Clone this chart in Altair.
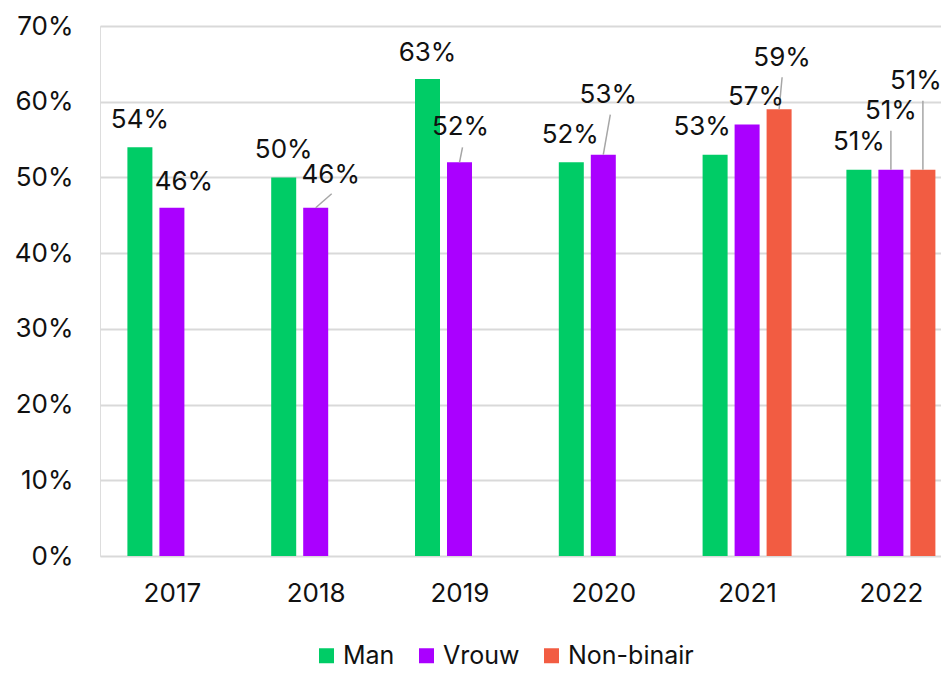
import altair as alt
import pandas as pd

# ---- data ----
years = ["2017", "2018", "2019", "2020", "2021", "2022"]
series = ["Man", "Vrouw", "Non-binair"]
man = [54, 50, 63, 52, 53, 51]
vrouw = [46, 46, 52, 53, 57, 51]
non_binair = [None, None, None, None, 59, 51]
colors = ["#00CC66", "#AA00FF", "#F25C42"]

# ---- layout / style ----
FONT = "Inter"
TEXT_COLOR = "#111111"
PLOT_W, PLOT_H = 841, 530
STEP = 143.8          # px per year group
SUB = 32              # px between bars in a group
BAR_W = 25
Y_MAX = 70
PX_PER_PCT = PLOT_H / Y_MAX

# label nudges (px, right / up) relative to bar top centre
label_nudge = {
    ("2017", "Man"): (0, 27), ("2017", "Vrouw"): (12, 26),
    ("2018", "Man"): (0, 27), ("2018", "Vrouw"): (15, 33),
    ("2019", "Man"): (0, 26), ("2019", "Vrouw"): (1, 35),
    ("2020", "Man"): (-1, 27), ("2020", "Vrouw"): (5, 60),
    ("2021", "Man"): (-13, 28), ("2021", "Vrouw"): (9, 27), ("2021", "Non-binair"): (3, 51),
    ("2022", "Man"): (0, 28), ("2022", "Vrouw"): (0, 59), ("2022", "Non-binair"): (-7, 89),
}
# leader line ends (px, right / up) relative to bar top centre
leader_end = {
    ("2018", "Vrouw"): (16, 14),
    ("2019", "Vrouw"): (3, 15),
    ("2020", "Vrouw"): (7, 40),
    ("2021", "Non-binair"): (3, 32),
    ("2022", "Vrouw"): (0, 39),
    ("2022", "Non-binair"): (0, 69),
}

values = {"Man": man, "Vrouw": vrouw, "Non-binair": non_binair}
rows = []
for i, yr in enumerate(years):
    for j, s in enumerate(series):
        v = values[s][i]
        if v is None:
            continue
        cx = i + 0.5 + (j - 1) * SUB / STEP
        ndx, ndy = label_nudge.get((yr, s), (0, 27))
        row = {
            "year": yr, "series": s, "value": v, "label": f"{v}%",
            "cx": cx,
            "x0": cx - BAR_W / 2 / STEP, "x1": cx + BAR_W / 2 / STEP,
            "lx": cx + ndx / STEP, "ly": v + ndy / PX_PER_PCT,
            "has_leader": (yr, s) in leader_end,
        }
        if (yr, s) in leader_end:
            ldx, ldy = leader_end[(yr, s)]
            row["ex"] = cx + ldx / STEP
            row["ey"] = v + ldy / PX_PER_PCT
        else:
            row["ex"] = cx
            row["ey"] = v
        rows.append(row)
df = pd.DataFrame(rows)

xscale = alt.Scale(domain=[0, PLOT_W / STEP], nice=False, zero=False)
yscale = alt.Scale(domain=[0, Y_MAX], nice=False)

year_arr = "[" + ",".join(f"'{y}'" for y in years) + "]"
xaxis = alt.Axis(
    values=[i + 0.5 for i in range(len(years))],
    labelExpr=f"{year_arr}[floor(datum.value)]",
    title=None, grid=False, ticks=False, domain=False,
    labelFont=FONT, labelFontSize=26, labelColor=TEXT_COLOR,
    labelPadding=24, labelBaseline="top",
)
yaxis = alt.Axis(
    values=list(range(0, Y_MAX + 1, 10)),
    labelExpr="datum.value + '%'",
    title=None, grid=True, gridColor="#D9D9D9", gridWidth=2,
    ticks=False, domain=False,
    labelFont=FONT, labelFontSize=26, labelColor=TEXT_COLOR, labelPadding=27,
)

base = alt.Chart(df)

bars = base.mark_bar().encode(
    x=alt.X("x0:Q", scale=xscale, axis=xaxis),
    x2="x1:Q",
    y=alt.Y("value:Q", scale=yscale, axis=yaxis),
    y2=alt.datum(0),
    color=alt.Color(
        "series:N",
        scale=alt.Scale(domain=series, range=colors),
        legend=alt.Legend(
            title=None, orient="none", legendX=214, legendY=617,
            direction="horizontal", symbolType="square", symbolSize=225,
            symbolStrokeWidth=0, symbolOpacity=1,
            labelFont=FONT, labelFontSize=25, labelColor=TEXT_COLOR,
            labelOffset=4, columnPadding=19,
        ),
    ),
)

leaders = base.transform_filter("datum.has_leader").mark_rule(
    color="#A6A6A6", strokeWidth=1.5
).encode(
    x=alt.X("cx:Q", scale=xscale),
    x2="ex:Q",
    y=alt.Y("value:Q", scale=yscale),
    y2="ey:Q",
)

labels = base.mark_text(
    font=FONT, fontSize=26, color=TEXT_COLOR, align="center", baseline="middle"
).encode(
    x=alt.X("lx:Q", scale=xscale),
    y=alt.Y("ly:Q", scale=yscale),
    text="label:N",
)

chart = alt.layer(bars, leaders, labels).properties(
    width=PLOT_W, height=PLOT_H,
    autosize=alt.AutoSizeParams(type="none"),
    padding={"left": 92, "top": 18, "right": 0, "bottom": 114},
).configure_view(stroke=None).configure(background="white")

chart.save("out.html", embed_options={"renderer": "svg", "actions": False})
